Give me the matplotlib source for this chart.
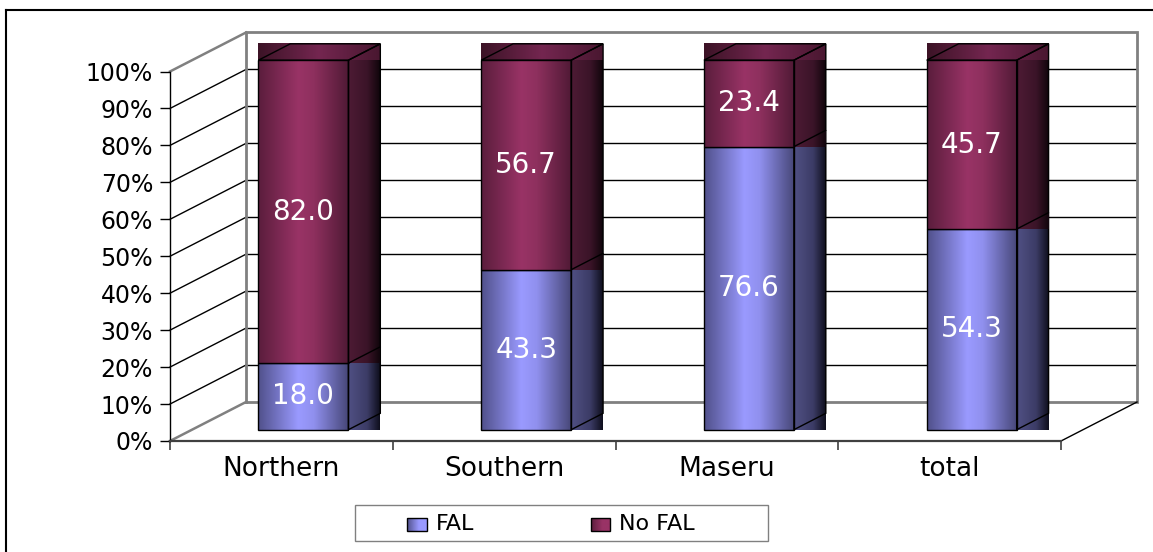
import numpy as np
import matplotlib
matplotlib.use("Agg")
import matplotlib.pyplot as plt
from matplotlib.patches import Polygon
from matplotlib.lines import Line2D
from matplotlib.colors import LinearSegmentedColormap

plt.rcParams["font.family"] = ["DejaVu Sans"]

# ---- data -------------------------------------------------------------
regions = ["Northern", "Southern", "Maseru", "total"]
fal = [18.0, 43.3, 76.6, 54.3]
no_fal = [82.0, 56.7, 23.4, 45.7]
series_names = ["FAL", "No FAL"]
y_ticks = list(range(0, 101, 10))

# ---- figure / 3-D box geometry ------------------------------------------
W, H = 1153, 552
fig = plt.figure(figsize=(W / 100, H / 100), dpi=100, facecolor="white")
ax = fig.add_axes([0, 0, 1, 1])

X0, Y0 = 170, 441          # front-plane origin (pixels)
CAT_PX = 222.75            # width of one category on the front plane
PCT_PX = 3.695             # pixels per percent on the front plane
DEPTH_PX = (76, 39)        # oblique depth vector of the box

ax.set_xlim(-X0 / CAT_PX, (W - X0) / CAT_PX)
ax.set_ylim(-(H - Y0) / PCT_PX, Y0 / PCT_PX)
ax.set_autoscale_on(False)
ax.set_facecolor("none")

DX = DEPTH_PX[0] / CAT_PX
DY = DEPTH_PX[1] / PCT_PX
n = len(regions)
YMAX = 100

BAR_W = 0.404
D_FRONT = 0.29
D_BACK = 0.71


def px(x, y):
    """pixel position -> data coordinates (axes spans the whole figure)"""
    return (x - X0) / CAT_PX, (Y0 - y) / PCT_PX


def shift(x, y, d):
    return x + d * DX, y + d * DY


def gradient_box(x0, x1, y0, y1, stops, z):
    cmap = LinearSegmentedColormap.from_list("face", stops)
    grad = np.linspace(0, 1, 256)[None, :]
    ax.imshow(grad, cmap=cmap, extent=(x0, x1, y0, y1), aspect="auto",
              interpolation="bilinear", origin="lower", zorder=z)


def outline(verts, z, lw=1.0):
    ax.add_patch(Polygon(verts, closed=True, facecolor="none", edgecolor="black",
                         lw=lw, zorder=z, joinstyle="miter"))


GRAY = "#808080"

# ---- walls and floor ---------------------------------------------------
for v in y_ticks[1:-1]:
    xa, ya = shift(0, v, 1)
    xb, yb = shift(n, v, 1)
    ax.plot([xa, xb], [ya, yb], color="black", lw=1.0, zorder=1)
    ax.plot([0, xa], [v, ya], color="black", lw=1.0, zorder=1)

bl = shift(0, 0, 1)
tl = shift(0, YMAX, 1)
tr = shift(n, YMAX, 1)
br = shift(n, 0, 1)
ax.plot([bl[0], tl[0], tr[0], br[0], bl[0]], [bl[1], tl[1], tr[1], br[1], bl[1]],
        color=GRAY, lw=2.0, zorder=1.2, solid_joinstyle="miter")
ax.plot([0, tl[0]], [YMAX, tl[1]], color=GRAY, lw=1.8, zorder=1.2)
ax.plot([0, bl[0]], [0, bl[1]], color=GRAY, lw=1.8, zorder=1.2)
ax.plot([n, br[0]], [0, br[1]], color="black", lw=1.0, zorder=1.2)

# ---- bars -------------------------------------------------------------
fal_front = [(0, "#50508a"), (0.45, "#9a9aff"), (0.62, "#9090ee"), (1, "#48487a")]
fal_side = [(0, "#505084"), (0.6, "#3c3c66"), (1, "#0e0e1c")]
nf_front = [(0, "#5a1d3c"), (0.45, "#993366"), (0.62, "#8e305e"), (1, "#511a36")]
nf_side = [(0, "#4e1b35"), (0.6, "#3b1428"), (1, "#10050b")]
nf_top = [(0, "#3c1326"), (0.5, "#742650"), (1, "#491730")]

styles = [(fal_front, fal_side, None), (nf_front, nf_side, nf_top)]
t = D_BACK - D_FRONT

for i, (a, b) in enumerate(zip(fal, no_fal)):
    z = 3 + i
    xc = i + 0.5
    segs = [(0, a), (a, a + b)]
    for k, (lo, hi) in enumerate(segs):
        front_st, side_st, top_st = styles[k]
        zk = z + 0.2 * k
        xl, y0 = shift(xc - BAR_W / 2, lo, D_FRONT)
        xr, y1 = shift(xc + BAR_W / 2, hi, D_FRONT)
        xb_ = xr + t * DX
        # front face
        gradient_box(xl, xr, y0, y1, front_st, zk)
        outline([(xl, y0), (xr, y0), (xr, y1), (xl, y1)], zk + 0.05)
        # side face, filled over its front height
        gradient_box(xr, xb_, y0, y1, side_st, zk + 0.01)
        outline([(xr, y0), (xb_, y0 + t * DY), (xb_, y1 + t * DY), (xr, y1)], zk + 0.06)
        if top_st is not None:
            gradient_box(xl, xb_, y1, y1 + t * DY, top_st, zk + 0.02)
            outline([(xl, y1), (xr, y1), (xb_, y1 + t * DY), (xl + t * DX, y1 + t * DY)],
                    zk + 0.07)
        lx, ly = shift(xc, (lo + hi) / 2, D_FRONT)
        ax.text(lx, ly, f"{hi - lo:.1f}", ha="center", va="center", color="white",
                fontsize=20, zorder=zk + 0.1)

# ---- front axes -------------------------------------------------------
for s in ("top", "right"):
    ax.spines[s].set_visible(False)
ax.spines["left"].set_position(("data", 0))
ax.spines["left"].set_bounds(0, YMAX)
ax.spines["left"].set_color("black")
ax.spines["left"].set_linewidth(1.0)
ax.spines["bottom"].set_position(("data", 0))
ax.spines["bottom"].set_bounds(0, n)
ax.spines["bottom"].set_color("#404040")
ax.spines["bottom"].set_linewidth(1.6)
for sp in ax.spines.values():
    sp.set_zorder(20)

ax.set_yticks(y_ticks, labels=[f"{v}%" for v in y_ticks])
ax.tick_params(axis="y", direction="out", length=7.2, width=1.0, color="black",
               pad=5, labelsize=17, labelcolor="black")
for tk in (ax.yaxis.get_major_ticks()[0], ax.yaxis.get_major_ticks()[-1]):
    tk.tick1line.set_color(GRAY)

ax.set_xticks(range(n + 1), labels=[""] * (n + 1))
ax.set_xticks([i + 0.5 for i in range(n)], labels=regions, minor=True)
ax.tick_params(axis="x", which="major", direction="out", length=6.5, width=1.2,
               color="#404040")
ax.tick_params(axis="x", which="minor", length=0, pad=11, labelsize=19)
ax.xaxis.get_major_ticks()[0].tick1line.set_color("black")

# ---- legend -----------------------------------------------------------
lx0, ly0 = px(355, 541)
lx1, ly1 = px(768, 505)
ax.add_patch(Polygon([(lx0, ly0), (lx1, ly0), (lx1, ly1), (lx0, ly1)], closed=True,
                     facecolor="white", edgecolor=GRAY, lw=1.0, zorder=20))
legend_items = [(series_names[0], fal_front, 407, 427, 436),
                (series_names[1], nf_front, 591, 610, 619)]
for name, st, mx0, mx1, tx in legend_items:
    a0 = px(mx0, 531)
    a1 = px(mx1, 518)
    gradient_box(a0[0], a1[0], a0[1], a1[1],
                 [(0, st[0][1]), (0.6, st[1][1]), (1, st[1][1])], 21)
    outline([a0, (a1[0], a0[1]), a1, (a0[0], a1[1])], 21.1)
    tp = px(tx, 524.5)
    ax.text(tp[0], tp[1], name, ha="left", va="center", fontsize=16, color="black",
            zorder=22)

# ---- outer chart frame ------------------------------------------------
fig.add_artist(Line2D([6 / W, 6 / W], [0, 1 - 10 / H], color="black", lw=1.5,
                      transform=fig.transFigure))
fig.add_artist(Line2D([6 / W, 1], [1 - 10 / H, 1 - 10 / H], color="black", lw=1.5,
                      transform=fig.transFigure))

fig.savefig("out.png", dpi=100, facecolor="white")
